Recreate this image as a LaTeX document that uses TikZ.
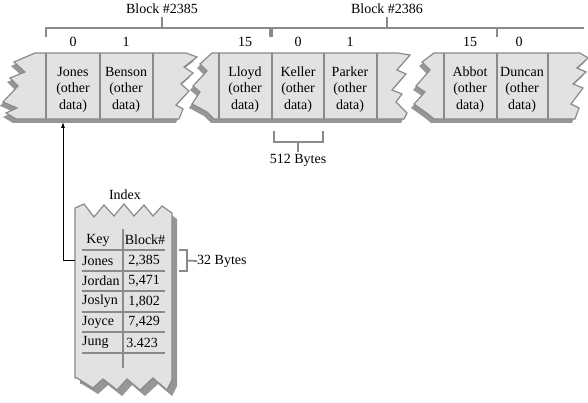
\documentclass[tikz,border=0pt]{standalone}
\usepackage{fontspec}
\setmainfont{Liberation Serif}
\usetikzlibrary{arrows.meta}
\definecolor{segfill}{RGB}{226,226,226}
\definecolor{segshadow}{RGB}{150,150,150}
\definecolor{segline}{RGB}{138,138,138}
\begin{document}
\begin{tikzpicture}[x=1pt,y=-1pt,
  txt/.style={font=\fontsize{14}{16.5}\selectfont, inner sep=0pt, text=black},
  celltxt/.style={txt, align=center},
  segbody/.style={fill=segfill, draw=segline, line width=1.2pt, line join=miter},
  segshade/.style={fill=segshadow},
  divider/.style={draw=segline, line width=1.4pt},
  bracket/.style={draw=segline, line width=1.8pt},
  tabline/.style={draw=segline, line width=1.4pt},
  arrowline/.style={draw=black, line width=0.8pt, -{Latex[length=6pt,width=4pt]}}]
\useasboundingbox (0,0) rectangle (588,403);

% ---------- segment 1 ----------
\fill[segshade, shift={(-3,4)}] (35,53) -- (186,53) -- (197,57) -- (184,67) -- (193,73) -- (181,84) -- (189,91) -- (176,105) -- (183,109) -- (179,119) -- (16,119) -- (6,113) -- (17,108) -- (3,102) -- (18,86) -- (10,78) -- (25,72) -- (14,62) -- cycle;
\path[segbody] (35,53) -- (186,53) -- (197,57) -- (184,67) -- (193,73) -- (181,84) -- (189,91) -- (176,105) -- (183,109) -- (179,119) -- (16,119) -- (6,113) -- (17,108) -- (3,102) -- (18,86) -- (10,78) -- (25,72) -- (14,62) -- cycle;
% ---------- segment 2 ----------
\fill[segshade, shift={(-3,4)}] (212,53) -- (398,53) -- (410,55) -- (397,70) -- (406,74) -- (392,90) -- (402,94) -- (396,102) -- (407,113) -- (404,119) -- (214,119) -- (207,112) -- (192,104) -- (200,92) -- (193,86) -- (207,71) -- (200,64) -- cycle;
\path[segbody] (212,53) -- (398,53) -- (410,55) -- (397,70) -- (406,74) -- (392,90) -- (402,94) -- (396,102) -- (407,113) -- (404,119) -- (214,119) -- (207,112) -- (192,104) -- (200,92) -- (193,86) -- (207,71) -- (200,64) -- cycle;
% ---------- segment 3 ----------
\fill[segshade, shift={(-3,4)}] (434,53) -- (580,53) -- (588,58) -- (577,68) -- (586,72) -- (573,84) -- (583,88) -- (571,104) -- (579,108) -- (575,119) -- (434,119) -- (428,114) -- (414,104) -- (425,92) -- (416,86) -- (430,70) -- (422,62) -- cycle;
\path[segbody] (434,53) -- (580,53) -- (588,58) -- (577,68) -- (586,72) -- (573,84) -- (583,88) -- (571,104) -- (579,108) -- (575,119) -- (434,119) -- (428,114) -- (414,104) -- (425,92) -- (416,86) -- (430,70) -- (422,62) -- cycle;

% dividers
\foreach \xx in {46,100,153,219,272,324,377,444,497,548}
  \draw[divider] (\xx,53) -- (\xx,119);

% record texts
\node[celltxt] (rjones)  at (73,89.5)  {Jones\\(other\\data)};
\node[celltxt] (rbenson) at (126,89.5) {Benson\\(other\\data)};
\node[celltxt] (rlloyd)  at (245,89.5) {Lloyd\\(other\\data)};
\node[celltxt] (rkeller) at (298,89.5) {Keller\\(other\\data)};
\node[celltxt] (rparker) at (350,89.5) {Parker\\(other\\data)};
\node[celltxt] (rabbot)  at (470,89.5) {Abbot\\(other\\data)};
\node[celltxt] (rduncan) at (522,89.5) {Duncan\\(other\\data)};

% record numbers
\node[txt] (n0a) at (73,42) {0};
\node[txt] (n1a) at (126,42) {1};
\node[txt] (n15a) at (245,42) {15};
\node[txt] (n0b) at (298,42) {0};
\node[txt] (n1b) at (350,42) {1};
\node[txt] (n15b) at (470,42) {15};
\node[txt] (n0c) at (519,42) {0};

% block brackets
\node[txt] (blk85) at (162,9) {Block \#2385};
\node[txt] (blk86) at (387,9) {Block \#2386};
\draw[bracket] (46,37) -- (46,28) -- (270,28) -- (270,37);
\draw[bracket] (162,28) -- (162,17);
\draw[bracket] (272,37) -- (272,28) -- (584,28);
\draw[bracket] (497,28) -- (497,37);
\draw[bracket] (387,28) -- (387,17);

% 512 bytes
\node[txt] (b512) at (298,160) {512 Bytes};
\draw[bracket] (274,131) -- (274,142) -- (323,142) -- (323,131);
\draw[bracket] (298,142) -- (298,152);

% ---------- index ----------
\node[txt] (idxlbl) at (125,195) {Index};
\fill[segshade, shift={(5,6)}] (75,208) -- (84,204) -- (94,217) -- (104,205) -- (114,216) -- (124,204) -- (134,216) -- (144,205) -- (153,216) -- (162,206) -- (172,213) -- (172,380) -- (167,390) -- (153,378) -- (140,390) -- (127,379) -- (117,390) -- (103,379) -- (93,388) -- (77,378) -- (75,378) -- cycle;
\path[segbody] (75,208) -- (84,204) -- (94,217) -- (104,205) -- (114,216) -- (124,204) -- (134,216) -- (144,205) -- (153,216) -- (162,206) -- (172,213) -- (172,380) -- (167,390) -- (153,378) -- (140,390) -- (127,379) -- (117,390) -- (103,379) -- (93,388) -- (77,378) -- (75,378) -- cycle;

\draw[tabline] (123,229) -- (123,368);
\foreach \yy in {250,271,291,312,332,353}
  \draw[tabline] (82,\yy) -- (165,\yy);

\node[txt] (hkey) at (98,240) {Key};
\node[txt] (hblk) at (145,240) {Block\#};
\node[txt, anchor=west] (kjones)  at (82,260.5) {Jones};
\node[txt, anchor=west] (kjordan) at (82,281) {Jordan};
\node[txt, anchor=west] (kjoslyn) at (82,301.5) {Joslyn};
\node[txt, anchor=west] (kjoyce)  at (82,322) {Joyce};
\node[txt, anchor=west] (kjung)   at (82,342.5) {Jung};
\node[txt] (vjones)  at (144,260.5) {2,385};
\node[txt] (vjordan) at (144,281) {5,471};
\node[txt] (vjoslyn) at (144,301.5) {1,802};
\node[txt] (vjoyce)  at (144,322) {7,429};
\node[txt] (vjung)   at (142,342.5) {3.423};

% 32 bytes
\node[txt, anchor=west] (b32) at (197,261) {32 Bytes};
\draw[bracket] (179,250) -- (187,250) -- (187,271) -- (179,271);
\draw[bracket] (187,260.5) -- (b32.west);

% arrow from index entry to record
\coordinate (idxentry) at (75,260.5);
\coordinate (arrto) at (63,122);
\draw[arrowline] (idxentry) -| (arrto);
\end{tikzpicture}
\end{document}
